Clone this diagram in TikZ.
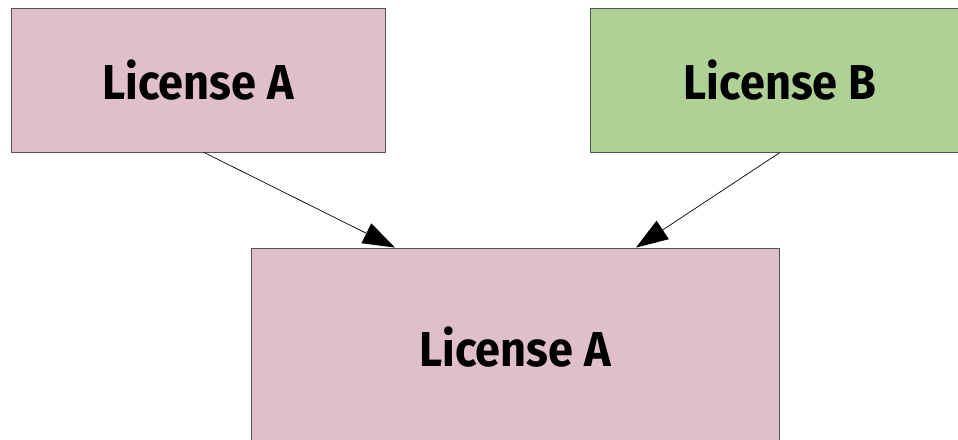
\documentclass[tikz,border=0pt]{standalone}
\usepackage{fontspec}
\setmainfont{Fira Sans}[BoldFont={Fira Sans Bold}]
\newfontfamily\labelfont{Fira Sans Bold}[FakeStretch=0.92]
\usetikzlibrary{arrows.meta}
\definecolor{lpink}{HTML}{DFC0CA}
\definecolor{lgreen}{HTML}{B0D196}
\definecolor{edge}{HTML}{555555}
\begin{document}
\begin{tikzpicture}[x=1pt,y=-1pt,
  licbox/.style={draw=edge,line width=0.9pt,inner sep=0pt,font=\labelfont\fontsize{49}{52}\selectfont,text=black},
  conn/.style={line width=0.7pt,-{Triangle[length=32pt,width=22pt]}}]
\useasboundingbox (0,0) rectangle (958,439);
\clip (0,0) rectangle (958,439);
\node[licbox,fill=lpink,minimum width=374pt,minimum height=144pt] (a) at (198,80) {License A};
\node[licbox,fill=lgreen,minimum width=380pt,minimum height=144pt] (b) at (780,80) {License B};
\node[licbox,fill=lpink,minimum width=528pt,minimum height=198pt] (c) at (515,347) {License A};
\coordinate (as) at ([xshift=6pt]a.south);
\coordinate (ce1) at (c.north -| 395,0);
\coordinate (ce2) at (c.north -| 636,0);
\draw[conn] (as) -- (ce1);
\draw[conn] (b.south) -- (ce2);
\end{tikzpicture}
\end{document}
